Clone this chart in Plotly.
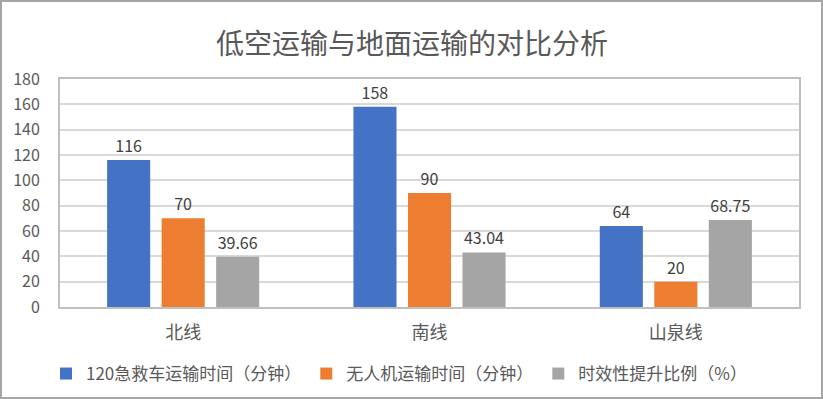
import plotly.graph_objects as go

categories = ["北线", "南线", "山泉线"]
ambulance = [116, 158, 64]
drone = [70, 90, 20]
efficiency = [39.66, 43.04, 68.75]
series_names = ["120急救车运输时间（分钟）", "无人机运输时间（分钟）", "时效性提升比例（%）"]
colors = ["#4472C4", "#ED7D31", "#A5A5A5"]
y_ticks = [0, 20, 40, 60, 80, 100, 120, 140, 160, 180]

W, H = 823, 399
ml, mr, mt, mb = 60, 24, 79, 92
font = "Noto Sans CJK SC, Microsoft YaHei, sans-serif"

fig = go.Figure()
for name, vals, c in zip(series_names, [ambulance, drone, efficiency], colors):
    fig.add_trace(go.Bar(
        x=categories, y=vals, name=name,
        marker=dict(color=c, line=dict(width=0)),
        text=[f"{v:g}" for v in vals], textposition="outside",
        textfont=dict(size=16, color="#404040", family=font),
        cliponaxis=False,
    ))

pw = W - ml - mr
ph = H - mt - mb
fig.add_shape(type="rect", xref="paper", yref="paper",
              x0=-ml / pw + 1 / pw, x1=1 + mr / pw - 1 / pw,
              y0=-mb / ph + 1 / ph, y1=1 + mt / ph - 1 / ph,
              line=dict(color="#A6A6A6", width=2), layer="below")

fig.update_layout(
    width=W, height=H,
    margin=dict(l=ml, r=mr, t=mt, b=mb, autoexpand=False),
    paper_bgcolor="white", plot_bgcolor="white",
    barmode="group", bargap=0.336, bargroupgap=0.21,
    title=dict(text="低空运输与地面运输的对比分析", x=(412) / W, xanchor="center",
               y=1 - 44 / H, yanchor="middle",
               font=dict(size=28, color="#595959", family=font)),
    font=dict(family=font, color="#595959"),
    legend=dict(orientation="h", x=(46 - ml) / pw, xanchor="left", y=-(374 - 307) / ph,
                yanchor="middle", font=dict(size=17, color="#595959", family=font),
                itemwidth=30, traceorder="normal"),
    xaxis=dict(showline=True, linecolor="#BFBFBF", linewidth=2, mirror=True,
               tickfont=dict(size=18, color="#595959"), ticks="", ticklabelstandoff=8,
               automargin=False),
    yaxis=dict(range=[0, 180], tickvals=y_ticks, showgrid=True, gridcolor="#D9D9D9",
               gridwidth=1.5, showline=True, linecolor="#BFBFBF", linewidth=2, mirror=True,
               tickfont=dict(size=16, color="#595959"), zeroline=False,
               ticks="", ticklabelstandoff=15, automargin=False),
    showlegend=True,
)

fig.write_html("out.html", config={"displayModeBar": False},
               post_script="document.body.style.margin='0px';")
